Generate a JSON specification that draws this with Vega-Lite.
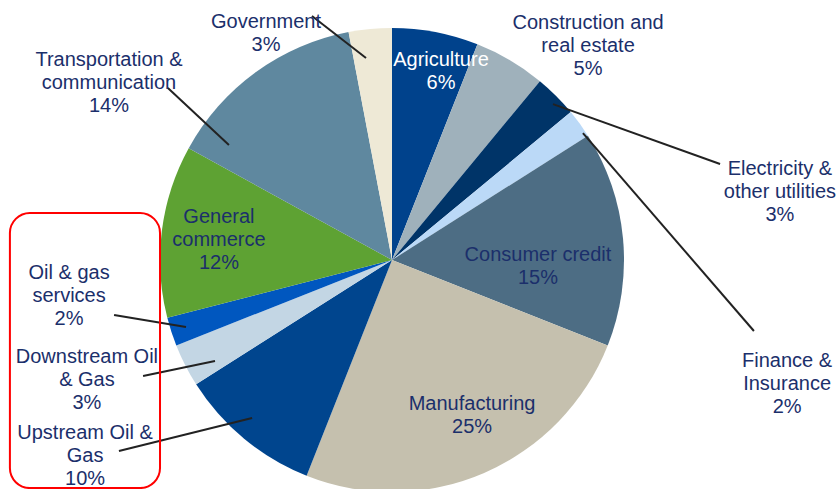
{
  "$schema": "https://vega.github.io/schema/vega-lite/v6.json",
  "width": 840,
  "height": 489,
  "padding": 0,
  "autosize": {"type": "none"},
  "background": "white",
  "config": {"view": {"stroke": null}},
  "datasets": {
    "slices": [
      {"id": 1, "sector": "Agriculture", "value": 6},
      {"id": 2, "sector": "Construction and real estate", "value": 5},
      {"id": 3, "sector": "Electricity & other utilities", "value": 3},
      {"id": 4, "sector": "Finance & Insurance", "value": 2},
      {"id": 5, "sector": "Consumer credit", "value": 15},
      {"id": 6, "sector": "Manufacturing", "value": 25},
      {"id": 7, "sector": "Upstream Oil & Gas", "value": 10},
      {"id": 8, "sector": "Downstream Oil & Gas", "value": 3},
      {"id": 9, "sector": "Oil & gas services", "value": 2},
      {"id": 10, "sector": "General commerce", "value": 12},
      {"id": 11, "sector": "Transportation & communication", "value": 14},
      {"id": 12, "sector": "Government", "value": 3}
    ],
    "labels": [
      {"sector": "Agriculture", "text": "Agriculture\n6%", "lx": 0.211, "ly": 0.862},
      {"sector": "Construction and real estate", "text": "Construction and\nreal estate\n5%", "lx": 0.845, "ly": 1.0216},
      {"sector": "Electricity & other utilities", "text": "Electricity &\nother utilities\n3%", "lx": 1.672, "ly": 0.392},
      {"sector": "Finance & Insurance", "text": "Finance &\nInsurance\n2%", "lx": 1.703, "ly": -0.435},
      {"sector": "Consumer credit", "text": "Consumer credit\n15%", "lx": 0.629, "ly": 0.0216},
      {"sector": "Manufacturing", "text": "Manufacturing\n25%", "lx": 0.345, "ly": -0.621},
      {"sector": "Upstream Oil & Gas", "text": "Upstream Oil &\nGas\n10%", "lx": -1.323, "ly": -0.746},
      {"sector": "Downstream Oil & Gas", "text": "Downstream Oil\n& Gas\n3%", "lx": -1.315, "ly": -0.418},
      {"sector": "Oil & gas services", "text": "Oil & gas\nservices\n2%", "lx": -1.392, "ly": -0.056},
      {"sector": "General commerce", "text": "General\ncommerce\n12%", "lx": -0.746, "ly": 0.185},
      {"sector": "Transportation & communication", "text": "Transportation &\ncommunication\n14%", "lx": -1.22, "ly": 0.862},
      {"sector": "Government", "text": "Government\n3%", "lx": -0.543, "ly": 1.026}
    ],
    "leaders": [
      {"sector": "Government", "x1": -0.345, "y1": 1.052, "x2": -0.112, "y2": 0.871},
      {"sector": "Electricity & other utilities", "x1": 0.694, "y1": 0.672, "x2": 1.414, "y2": 0.414},
      {"sector": "Finance & Insurance", "x1": 0.823, "y1": 0.547, "x2": 1.56, "y2": -0.306},
      {"sector": "Transportation & communication", "x1": -0.966, "y1": 0.741, "x2": -0.703, "y2": 0.496},
      {"sector": "Oil & gas services", "x1": -1.198, "y1": -0.237, "x2": -0.888, "y2": -0.289},
      {"sector": "Downstream Oil & Gas", "x1": -1.073, "y1": -0.5, "x2": -0.763, "y2": -0.435},
      {"sector": "Upstream Oil & Gas", "x1": -1.177, "y1": -0.823, "x2": -0.603, "y2": -0.681}
    ],
    "box": [
      {"x1": -1.647, "x2": -1.0, "y1": 0.2026, "y2": -0.983}
    ]
  },
  "layer": [
    {
      "data": {"name": "slices"},
      "mark": {"type": "arc", "outerRadius": 232},
      "encoding": {
        "x": {"datum": 0, "type": "quantitative", "scale": {"domain": [-1.6897, 1.931], "nice": false, "zero": false}, "axis": null},
        "y": {"datum": 0, "type": "quantitative", "scale": {"domain": [-0.9871, 1.1207], "nice": false, "zero": false}, "axis": null},
        "theta": {"field": "value", "type": "quantitative", "stack": true},
        "order": {"field": "id", "type": "quantitative"},
        "color": {
          "field": "sector",
          "type": "nominal",
          "legend": null,
          "scale": {
            "domain": ["Agriculture", "Construction and real estate", "Electricity & other utilities", "Finance & Insurance", "Consumer credit", "Manufacturing", "Upstream Oil & Gas", "Downstream Oil & Gas", "Oil & gas services", "General commerce", "Transportation & communication", "Government"],
            "range": ["#00428C", "#9FB1BB", "#003468", "#BBD9F7", "#4D6D84", "#C5C0AE", "#00458E", "#C3D6E4", "#0057BF", "#5EA233", "#5F889F", "#EEE9D6"]
          }
        }
      }
    },
    {
      "data": {"name": "leaders"},
      "mark": {"type": "rule", "color": "#222222", "strokeWidth": 2},
      "encoding": {
        "x": {"field": "x1", "type": "quantitative"},
        "y": {"field": "y1", "type": "quantitative"},
        "x2": {"field": "x2"},
        "y2": {"field": "y2"}
      }
    },
    {
      "data": {"name": "box"},
      "mark": {"type": "rect", "fill": null, "stroke": "#FF0000", "strokeWidth": 2, "cornerRadius": 20},
      "encoding": {
        "x": {"field": "x1", "type": "quantitative"},
        "y": {"field": "y1", "type": "quantitative"},
        "x2": {"field": "x2"},
        "y2": {"field": "y2"}
      }
    },
    {
      "data": {"name": "labels"},
      "mark": {"type": "text", "font": "Liberation Sans", "fontSize": 20, "lineHeight": 23, "lineBreak": "\n", "align": "center", "baseline": "middle"},
      "encoding": {
        "x": {"field": "lx", "type": "quantitative"},
        "y": {"field": "ly", "type": "quantitative"},
        "text": {"field": "text"},
        "color": {"condition": {"test": "datum.sector === 'Agriculture'", "value": "#FFFFFF"}, "value": "#1B2F6B"}
      }
    }
  ]
}
